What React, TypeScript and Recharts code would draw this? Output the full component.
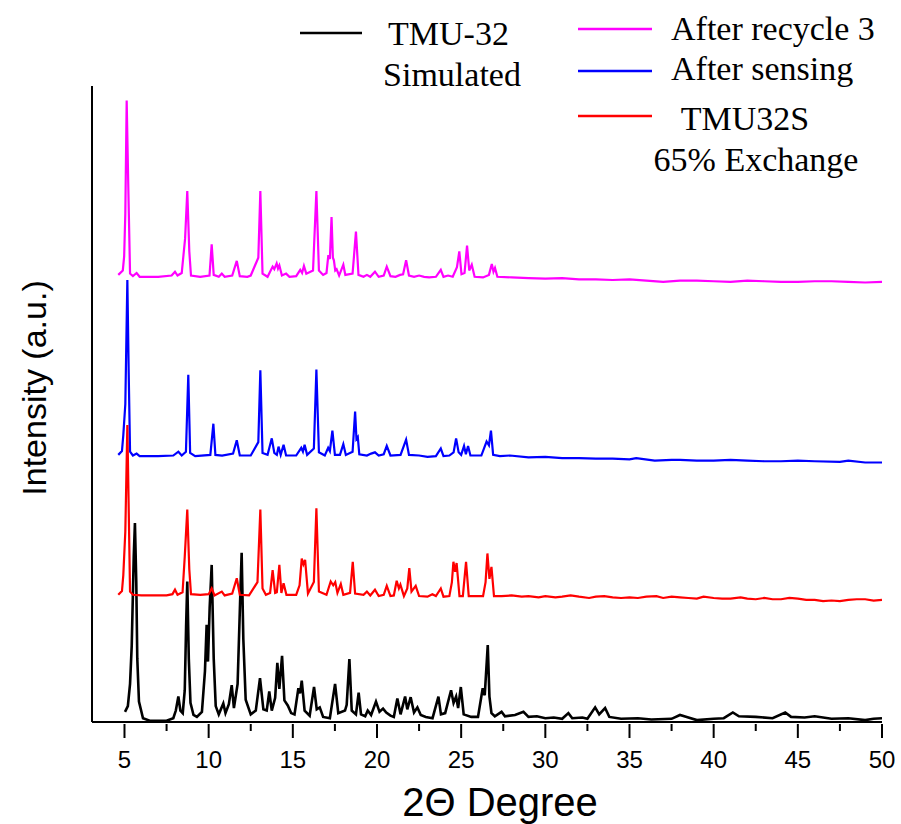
import React from 'react';
import { LineChart, Line, XAxis, YAxis, Legend } from 'recharts';

type Pt = [number, number];

// 2θ (deg), intensity (a.u., curves stacked as in the figure)
const simulated: Pt[] = [
  [5.03, 1.6], [5.2, 2.5], [5.33, 6], [5.43, 12], [5.55, 26], [5.62, 31.3], [5.7, 22], [5.76, 10], [5.86, 3.2],
  [6.1, 0.6], [6.5, 0.2], [7.5, 0.2], [7.9, 0.6], [8.05, 1.8], [8.2, 4.0], [8.32, 1.8], [8.46, 1.4], [8.58, 5],
  [8.66, 15], [8.73, 22.1], [8.82, 10], [8.92, 3], [9.1, 1.1], [9.3, 0.8], [9.6, 1.6], [9.78, 8], [9.88, 15.3],
  [9.96, 9.5], [10.06, 18], [10.18, 24.7], [10.3, 10], [10.42, 2.5], [10.6, 1.2], [10.87, 2.9], [11.0, 1.4],
  [11.2, 2.8], [11.37, 5.8], [11.5, 2.2], [11.72, 6], [11.88, 20], [11.96, 26.6], [12.06, 13], [12.2, 3.5],
  [12.5, 1.2], [12.8, 1.8], [13.05, 6.9], [13.25, 2.0], [13.45, 1.8], [13.6, 4.8], [13.75, 1.8], [13.95, 3.8],
  [14.08, 9.3], [14.2, 5.2], [14.36, 10.4], [14.5, 3.4], [14.7, 2.6], [14.9, 1.4], [15.1, 1.2], [15.33, 5.3],
  [15.43, 4.5], [15.53, 6.5], [15.7, 1.8], [16.0, 1.0], [16.26, 5.5], [16.42, 2.0], [16.6, 2.3], [16.8, 0.8],
  [17.2, 0.6], [17.51, 6.0], [17.7, 1.4], [18.1, 1.8], [18.2, 2.7], [18.36, 9.9], [18.5, 1.8], [18.75, 1.2],
  [18.91, 4.6], [19.05, 1.2], [19.3, 0.9], [19.45, 1.8], [19.65, 1.1], [19.94, 3.2], [20.15, 1.6], [20.36, 2.1],
  [20.55, 1.5], [20.8, 1.0], [21.0, 0.8], [21.21, 3.7], [21.4, 1.2], [21.67, 4.0], [21.8, 2.0], [22.0, 3.9],
  [22.2, 1.5], [22.4, 2.3], [22.6, 1.1], [22.9, 0.8], [23.3, 0.6], [23.65, 4.0], [23.8, 1.2], [24.05, 1.4],
  [24.4, 5.0], [24.55, 3.0], [24.7, 4.0], [24.82, 2.2], [24.98, 5.5], [25.15, 1.2], [25.6, 0.8], [26.0, 0.8],
  [26.28, 5.3], [26.4, 4.2], [26.58, 12.1], [26.68, 4], [26.8, 1.4], [27.0, 0.9], [27.4, 1.6], [27.6, 0.9],
  [28.2, 1.1], [28.7, 1.6], [29.0, 0.8], [29.5, 0.9], [30.0, 0.6], [30.5, 0.7], [31.0, 0.5], [31.37, 1.4],
  [31.6, 0.6], [32.2, 0.7], [32.5, 0.5], [32.96, 2.3], [33.2, 1.2], [33.55, 2.2], [33.8, 0.8], [34.5, 0.5],
  [35.5, 0.6], [36.3, 0.4], [37.5, 0.5], [38.0, 1.1], [38.4, 0.8], [39.0, 0.3], [40.0, 0.5], [40.6, 0.6],
  [41.14, 1.5], [41.5, 0.9], [42.5, 0.8], [43.5, 0.6], [44.25, 1.5], [44.6, 0.8], [45.4, 0.7], [46.0, 0.9],
  [47.0, 0.5], [48.0, 0.6], [49.0, 0.3], [49.5, 0.5], [50, 0.6],
];

const exchanged: Pt[] = [
  [4.63, 20.0], [4.85, 20.6], [4.93, 23.1], [5.05, 30], [5.17, 46.7], [5.26, 32], [5.33, 20.5], [5.5, 20.0],
  [6, 19.9], [7.5, 19.9], [7.85, 20.1], [8.0, 20.8], [8.15, 20.0], [8.45, 20.4], [8.58, 26], [8.73, 33.4],
  [8.85, 24], [8.95, 20.1], [9.5, 20.0], [10.0, 20.1], [10.18, 21.0], [10.35, 19.9], [10.78, 20.5], [10.95, 19.9],
  [11.4, 20.2], [11.67, 22.6], [11.85, 20.0], [12.4, 19.9], [12.9, 22], [13.07, 33.4], [13.2, 21], [13.4, 20.0],
  [13.65, 20.3], [13.8, 23.9], [13.95, 20.3], [14.05, 20.4], [14.2, 24.7], [14.32, 20.3], [14.45, 21.8],
  [14.62, 20.0], [15.2, 20.0], [15.4, 21.5], [15.53, 25.7], [15.63, 24.8], [15.73, 25.5], [15.9, 20.2],
  [16.25, 22], [16.4, 33.6], [16.55, 20.5], [17.0, 20.0], [17.25, 22.1], [17.4, 21.5], [17.52, 22.0],
  [17.65, 20.3], [17.85, 21.7], [18.0, 20.0], [18.4, 20.3], [18.56, 25.2], [18.7, 20.2], [19.2, 20.0],
  [19.4, 20.5], [19.6, 19.9], [19.88, 20.8], [20.1, 19.8], [20.4, 20.0], [20.58, 21.4], [20.8, 19.8],
  [21.0, 19.9], [21.17, 22.2], [21.3, 21.0], [21.39, 21.6], [21.6, 19.8], [21.8, 21], [21.92, 24.2],
  [22.05, 20.5], [22.3, 21.4], [22.5, 19.8], [23.0, 19.7], [23.29, 20.1], [23.5, 19.8], [23.79, 21.0],
  [23.95, 19.7], [24.3, 19.8], [24.45, 22], [24.54, 25.2], [24.64, 23.6], [24.73, 25.0], [24.9, 19.8],
  [25.1, 19.8], [25.29, 25.2], [25.45, 19.8], [26.3, 19.8], [26.45, 22], [26.56, 26.5], [26.68, 22.5],
  [26.8, 24.4], [26.95, 19.8], [27.4, 19.8], [28, 19.9], [28.6, 19.7], [29, 19.8], [29.6, 19.6], [30, 19.8],
  [30.6, 19.6], [31, 19.7], [31.5, 19.9], [32, 19.7], [32.6, 19.5], [33, 19.7], [33.5, 19.8], [34, 19.6],
  [34.5, 19.5], [35, 19.6], [35.5, 19.5], [36, 19.7], [36.6, 19.8], [37, 19.5], [37.5, 19.7], [38, 19.6],
  [38.5, 19.5], [39, 19.4], [39.4, 19.7], [40, 19.5], [40.5, 19.4], [41, 19.4], [41.6, 19.6], [42, 19.4],
  [42.5, 19.3], [43, 19.5], [43.5, 19.3], [44, 19.3], [44.5, 19.5], [45, 19.4], [45.5, 19.2], [46, 19.2],
  [46.5, 19.0], [47, 19.1], [47.5, 19.0], [48, 19.2], [48.5, 19.3], [49, 19.3], [49.5, 19.1], [50, 19.2],
];

const afterSensing: Pt[] = [
  [4.63, 42.0], [4.85, 42.6], [4.93, 45.1], [5.05, 50], [5.17, 69.5], [5.25, 55], [5.33, 42.5], [5.5, 41.9],
  [5.72, 42.2], [5.9, 41.8], [7, 41.8], [7.9, 41.9], [8.2, 42.5], [8.4, 41.9], [8.65, 42.5], [8.79, 54.6],
  [8.9, 42.3], [9.2, 41.8], [10.1, 42.0], [10.28, 46.9], [10.4, 42.0], [10.8, 41.9], [11.45, 42.2],
  [11.67, 44.3], [11.85, 41.9], [12.5, 41.9], [12.95, 44], [13.07, 55.3], [13.2, 42.3], [13.5, 42.0],
  [13.75, 44.6], [13.9, 42.3], [14.05, 42.0], [14.15, 43.3], [14.28, 42.0], [14.45, 43.6], [14.6, 41.9],
  [15.2, 41.9], [15.5, 43.1], [15.6, 42.5], [15.7, 43.6], [15.85, 42.0], [16.25, 43], [16.4, 55.4],
  [16.55, 42.4], [16.9, 41.9], [17.1, 43.1], [17.2, 42.6], [17.35, 45.8], [17.5, 42.0], [17.8, 42.0],
  [18.0, 43.7], [18.15, 42.0], [18.55, 42.5], [18.7, 48.8], [18.78, 44.5], [18.86, 44.8], [18.95, 42.1],
  [19.4, 41.9], [19.65, 42.2], [19.88, 42.4], [20.1, 41.9], [20.4, 42.1], [20.58, 43.4], [20.8, 41.9],
  [21.4, 42.0], [21.73, 44.4], [21.9, 42.0], [22.5, 41.9], [23.0, 41.7], [23.5, 41.8], [23.79, 43.0],
  [23.95, 41.8], [24.3, 41.9], [24.55, 42.4], [24.7, 44.6], [24.85, 42.4], [25.0, 42.0], [25.17, 43.4],
  [25.28, 42.1], [25.41, 43.4], [25.55, 41.9], [26.2, 41.9], [26.51, 44.1], [26.65, 43.5], [26.77, 45.8],
  [26.9, 42.0], [27.3, 41.8], [27.9, 41.9], [29, 41.6], [30, 41.7], [31, 41.5], [32, 41.5], [33, 41.4],
  [34, 41.4], [35, 41.3], [35.4, 41.5], [36.5, 41.1], [37.5, 41.2], [38, 41.2], [39, 41.1], [40, 41.1],
  [41, 41.2], [42, 41.1], [43, 41.0], [44, 41.0], [45, 41.1], [46, 41.0], [47.5, 40.9], [48, 41.1], [49, 40.8],
  [50, 40.8],
];

const afterRecycle: Pt[] = [
  [4.63, 70.3], [4.9, 71.0], [4.98, 73.2], [5.05, 80], [5.13, 97.7], [5.22, 85], [5.33, 70.5], [5.5, 70.1],
  [5.72, 70.6], [5.9, 70.0], [7.0, 70.0], [7.8, 70.2], [8.0, 70.8], [8.15, 70.2], [8.4, 70.6], [8.6, 76],
  [8.73, 83.5], [8.85, 74], [8.95, 70.2], [9.5, 70.0], [10.05, 70.2], [10.18, 75.1], [10.3, 70.3], [10.6, 70.0],
  [10.78, 70.5], [10.95, 70.0], [11.4, 70.2], [11.67, 72.5], [11.85, 70.1], [12.3, 70.0], [12.5, 70.2],
  [12.95, 73], [13.07, 83.5], [13.2, 70.5], [13.5, 70.0], [13.8, 71.6], [13.9, 71.2], [14.04, 72.1],
  [14.12, 71.3], [14.2, 71.8], [14.35, 70.2], [14.6, 70.5], [14.8, 70.0], [15.2, 70.1], [15.44, 71.1],
  [15.55, 70.6], [15.66, 71.7], [15.8, 70.5], [16.2, 71], [16.4, 83.5], [16.55, 71], [16.8, 70.3], [17.0, 70.6],
  [17.11, 73.4], [17.2, 72.8], [17.3, 79.4], [17.38, 73], [17.44, 72.6], [17.52, 71], [17.6, 71.2],
  [17.75, 70.2], [18.0, 71.9], [18.12, 70.3], [18.55, 70.5], [18.75, 77.1], [18.9, 70.3], [19.2, 70.0],
  [19.4, 70.3], [19.6, 70.0], [19.88, 70.8], [20.1, 70.0], [20.4, 70.2], [20.58, 71.6], [20.8, 70.1],
  [21.1, 70.0], [21.37, 70.3], [21.55, 70.4], [21.73, 72.6], [21.9, 70.2], [22.2, 70.0], [22.5, 70.2],
  [22.8, 70.0], [23.1, 69.9], [23.5, 70.0], [23.79, 71.1], [23.95, 70.0], [24.22, 70.2], [24.5, 70.0],
  [24.75, 71.5], [24.89, 74.0], [25.02, 70.4], [25.2, 70.6], [25.35, 74.9], [25.48, 71.0], [25.63, 71.9],
  [25.8, 70.0], [26.3, 69.9], [26.65, 70.3], [26.82, 72.0], [26.92, 70.8], [27.01, 71.4], [27.15, 70.0],
  [28, 69.9], [29, 69.8], [30, 69.7], [31, 69.8], [32, 69.6], [33, 69.6], [34, 69.5], [35, 69.6], [36, 69.4],
  [37, 69.2], [38, 69.4], [39, 69.4], [40, 69.3], [41, 69.2], [42, 69.4], [43, 69.3], [44, 69.2], [45, 69.2],
  [46, 69.3], [47, 69.3], [48, 69.2], [49, 69.1], [50, 69.2],
];

const majorTicks = [5, 10, 15, 20, 25, 30, 35, 40, 45, 50];
const minorTicks = [7.5, 12.5, 17.5, 22.5, 27.5, 32.5, 37.5, 42.5, 47.5];

const series = [
  { key: 'sim', name: 'TMU-32 Simulated', color: '#000000', width: 2.6, points: simulated },
  { key: 'sens', name: 'After sensing', color: '#0000ff', width: 2.2, points: afterSensing },
  { key: 'exch', name: 'TMU32S 65% Exchange', color: '#ff0000', width: 2.2, points: exchanged },
  { key: 'rec', name: 'After recycle 3', color: '#ff00ff', width: 2.2, points: afterRecycle },
];

const toRows = (pts: Pt[]) => pts.map(([x, y]) => ({ x, y }));

const SANS = '"Liberation Sans", Arial, sans-serif';
const SERIF = '"Liberation Serif", "Times New Roman", serif';

const XTick = (props: any) => {
  const { x, y, payload } = props;
  const major = majorTicks.includes(payload.value);
  return (
    <g>
      <line x1={x} x2={x} y1={y} y2={y + (major ? 14 : 7)} stroke="#000" strokeWidth={2} />
      {major && (
        <text x={x} y={y + 44} textAnchor="middle" fontSize={24} fontFamily={SANS} fill="#000">
          {payload.value}
        </text>
      )}
    </g>
  );
};

const colorOf = (key: string) => series.find(s => s.key === key)!.color;

const LegendBox = () => (
  <svg width={901} height={180} style={{ display: 'block' }}>
    <g fontFamily={SERIF} fontSize={34} fill="#000">
      <line x1={300} x2={362} y1={33} y2={33} stroke={colorOf('sim')} strokeWidth={2.5} />
      <text x={388} y={45}>TMU-32</text>
      <text x={452} y={86} textAnchor="middle">Simulated</text>

      <line x1={578} x2={652} y1={29} y2={29} stroke={colorOf('rec')} strokeWidth={2.5} />
      <text x={671} y={40}>After recycle 3</text>

      <line x1={578} x2={652} y1={71} y2={71} stroke={colorOf('sens')} strokeWidth={2.5} />
      <text x={671} y={80}>After sensing</text>

      <line x1={578} x2={652} y1={116} y2={116} stroke={colorOf('exch')} strokeWidth={2.5} />
      <text x={745} y={130} textAnchor="middle">TMU32S</text>
      <text x={756} y={171} textAnchor="middle">65% Exchange</text>
    </g>
  </svg>
);

export default function App() {
  return (
    <div style={{ position: 'absolute', left: 0, top: 0, background: '#fff' }}>
      <LineChart width={901} height={824} margin={{ top: 86, right: 19, bottom: 0, left: 80 }}>
        <XAxis
          type="number"
          dataKey="x"
          domain={[3.07, 50]}
          ticks={[...majorTicks, ...minorTicks].sort((a, b) => a - b)}
          interval={0}
          allowDataOverflow
          height={102}
          tickSize={0}
          tickLine={false}
          tick={<XTick />}
          axisLine={{ stroke: '#000', strokeWidth: 2 }}
          label={{
            content: () => (
              <text x={500} y={816} textAnchor="middle" fontSize={40} fontFamily={SANS} fill="#000">
                2Θ Degree
              </text>
            ),
          }}
        />
        <YAxis
          type="number"
          domain={[0, 100]}
          ticks={[100]}
          width={12}
          tick={false}
          tickSize={12}
          tickLine={{ stroke: '#000', strokeWidth: 2 }}
          axisLine={{ stroke: '#000', strokeWidth: 2 }}
          label={{
            content: () => (
              <text
                x={46}
                y={388}
                transform="rotate(-90 46 388)"
                textAnchor="middle"
                fontSize={34}
                fontFamily={SANS}
                fill="#000"
              >
                Intensity (a.u.)
              </text>
            ),
          }}
        />
        <Legend
          layout="vertical"
          align="center"
          verticalAlign="middle"
          wrapperStyle={{ left: 0, top: 0, width: 901, height: 180 }}
          content={() => <LegendBox />}
        />
        {series.map(s => (
          <Line
            key={s.key}
            name={s.name}
            data={toRows(s.points)}
            dataKey="y"
            type="linear"
            stroke={s.color}
            strokeWidth={s.width}
            dot={false}
            activeDot={false}
            isAnimationActive={false}
          />
        ))}
      </LineChart>
    </div>
  );
}
